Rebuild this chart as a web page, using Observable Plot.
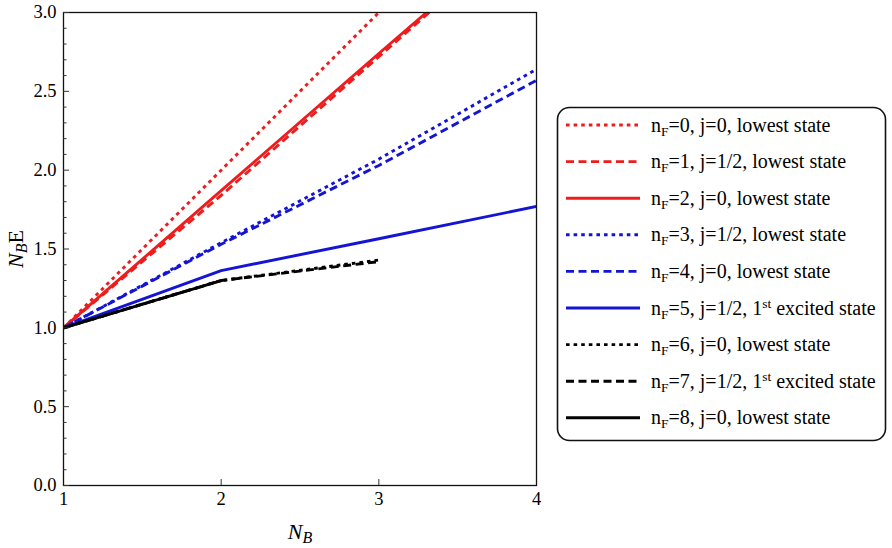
<!DOCTYPE html>
<html><head><meta charset="utf-8">
<script src="https://cdn.jsdelivr.net/npm/d3@7"></script>
<script src="https://cdn.jsdelivr.net/npm/@observablehq/plot@0.6"></script>
<style>body{margin:0;background:#fff} svg text{font-family:'Liberation Serif','Times New Roman',serif !important}</style>
</head><body><div id="chart"></div>
<script>
// x values (N_B)
const nB = [1, 2, 3, 4];
// N_B E for each n_F series
const nF0 = [1, 2.00, 3.00, 4.00];
const nF1 = [1, 1.84, 2.72, 3.60];
const nF2 = [1, 1.87, 2.74, 3.60];
const nF3 = [1, 1.54, 2.07, 2.64];
const nF4 = [1, 1.53, 2.03, 2.57];
const nF5 = [1, 1.363, 1.565, 1.77];
const nF6 = [1, 1.30, 1.43];
const nF7 = [1, 1.30, 1.42];
const nF8 = [1, 1.30];
const seriesValues = [nF0, nF1, nF2, nF3, nF4, nF5, nF6, nF7, nF8];
const seriesN = ["0","1","2","3","4","5","6","7","8"];
const seriesJ = ["0","1/2","0","1/2","0","1/2","0","1/2","0"];
const seriesState = ["lowest","lowest","lowest","lowest","lowest","excited","lowest","excited","lowest"];
const seriesColor = ["#ee1c1c","#ee1c1c","#ee1c1c","#1414d4","#1414d4","#1414d4","#000","#000","#000"];
const seriesStyle = ["dot","dash","solid","dot","dash","solid","dot","dash","solid"];
// axis ticks
const xTicks = [1, 2, 3, 4];
const xInnerTicks = [2, 3];
const yMajor = [0, 0.5, 1, 1.5, 2, 2.5, 3];
const yMinor = [0.1,0.2,0.3,0.4,0.6,0.7,0.8,0.9,1.1,1.2,1.3,1.4,1.6,1.7,1.8,1.9,2.1,2.2,2.3,2.4,2.6,2.7,2.8,2.9];

const dashFor = s => s === "dot" ? "3.6,4" : s === "dash" ? "8,4.5" : null;
const sw = 2.9;
const SERIF = "'Liberation Serif', 'Times New Roman', serif";

const lineMarks = seriesValues.map((vals, i) => {
  const rows = vals.map((v, k) => ({x: nB[k], y: v}));
  return Plot.line(rows, {x: "x", y: "y", stroke: seriesColor[i], strokeWidth: sw,
    strokeDasharray: dashFor(seriesStyle[i]), clip: true, strokeLinecap: "butt"});
});

const plot = Plot.plot({
  width: 892, height: 548,
  marginLeft: 63, marginRight: 356, marginTop: 12, marginBottom: 63,
  style: {fontFamily: SERIF, fontSize: "18px", background: "white", color: "black"},
  x: {domain: [1, 4], label: null},
  y: {domain: [0, 3], label: null},
  marks: [
    ...lineMarks,
    Plot.frame({stroke: "#111", strokeWidth: 1.3}),
    Plot.axisY(yMajor, {tickSize: 0, tickPadding: 7, tickFormat: d => d.toFixed(1), fontSize: 18.5}),
    Plot.axisY(yMajor, {tickSize: 6, dx: 6, tickFormat: () => "", stroke: "#333"}),
    Plot.axisY(yMinor, {tickSize: 3.5, dx: 3.5, tickFormat: () => "", stroke: "#333"}),
    Plot.axisX(xTicks, {tickSize: 0, tickPadding: 6, tickFormat: d => String(d), fontSize: 18.5}),
    Plot.axisX(xInnerTicks, {tickSize: 6, dy: -6, tickFormat: () => "", stroke: "#333"})
  ]
});

const svg = d3.select(plot);
// axis labels
const yl = svg.append("text").attr("transform", "translate(23,249) rotate(-90)")
  .attr("text-anchor", "middle").attr("font-size", 22).attr("font-family", SERIF);
yl.append("tspan").attr("font-style", "italic").text("N");
yl.append("tspan").attr("font-style", "italic").attr("font-size", 16).attr("dy", 4).text("B");
yl.append("tspan").attr("dy", -4).text("E");

const xl = svg.append("text").attr("x", 300).attr("y", 539)
  .attr("text-anchor", "middle").attr("font-size", 22).attr("font-family", SERIF);
xl.append("tspan").attr("font-style", "italic").text("N");
xl.append("tspan").attr("font-style", "italic").attr("font-size", 16).attr("dy", 4).text("B");

// legend
const lg = svg.append("g").attr("text-anchor", "start");
lg.append("rect").attr("x", 557.5).attr("y", 107.5).attr("width", 328).attr("height", 333)
  .attr("rx", 12).attr("fill", "white").attr("stroke", "#111").attr("stroke-width", 1.6);
seriesValues.forEach((_, i) => {
  const cy = 125 + 36.6 * i;
  lg.append("line").attr("x1", 566).attr("x2", 640).attr("y1", cy).attr("y2", cy)
    .attr("stroke", seriesColor[i]).attr("stroke-width", sw)
    .attr("stroke-dasharray", dashFor(seriesStyle[i]));
  const t = lg.append("text").attr("x", 651).attr("y", cy + 6.5).attr("text-anchor", "start")
    .attr("font-size", 20).attr("font-family", SERIF);
  t.append("tspan").text("n");
  t.append("tspan").attr("font-size", 13.5).attr("dy", 4).text("F");
  if (seriesState[i] === "lowest") {
    t.append("tspan").attr("dy", -4).text(`=${seriesN[i]}, j=${seriesJ[i]}, lowest state`);
  } else {
    t.append("tspan").attr("dy", -4).text(`=${seriesN[i]}, j=${seriesJ[i]}, 1`);
    t.append("tspan").attr("font-size", 13.5).attr("dy", -7).text("st");
    t.append("tspan").attr("dy", 7).text(" excited state");
  }
});

document.getElementById("chart").appendChild(plot);
</script>
</body></html>
